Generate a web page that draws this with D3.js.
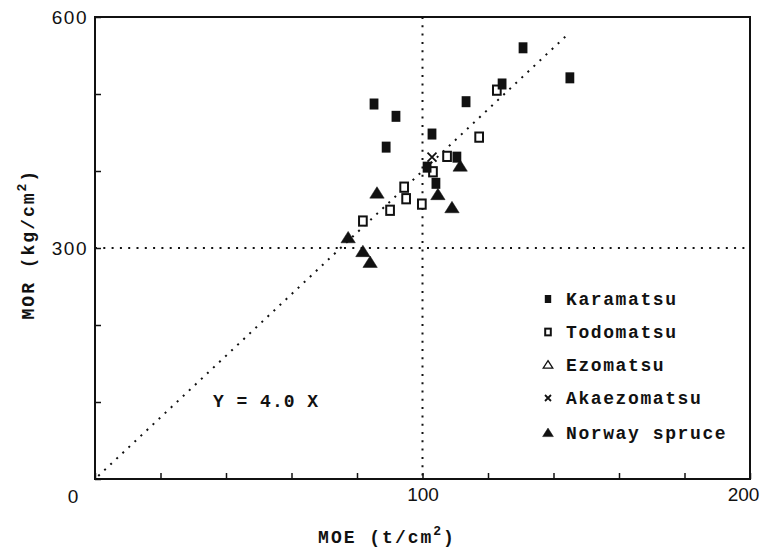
<!DOCTYPE html>
<html>
<head>
<meta charset="utf-8">
<script src="https://cdn.jsdelivr.net/npm/d3@7"></script>
<style>
  body { margin: 0; background: #fff; }
  .mono { font-family: "Liberation Mono", "DejaVu Sans Mono", monospace; font-weight: bold; fill: #111; }
  .tick text { font-family: "Liberation Sans", Arial, sans-serif; font-size: 19px; fill: #111; }
</style>
</head>
<body>
<div id="chart"></div>
<script>
// Data: [MOE (t/cm2), MOR (kg/cm2)]
const karamatsu = [
  [85.2, 487], [91.9, 471], [88.9, 431], [102.9, 448], [101.4, 405],
  [104.1, 384], [110.5, 418], [113.3, 490], [124.3, 513], [130.7, 560],
  [145.0, 521]
];
const todomatsu = [
  [122.7, 505], [117.3, 444], [107.5, 419], [103.2, 399], [94.4, 379],
  [95.0, 364], [99.8, 357], [90.1, 349], [81.8, 335]
];
const ezomatsu = [];
const akaezomatsu = [[102.9, 418]];
const norwaySpruce = [
  [86.1, 371], [77.3, 313], [81.8, 295], [84.0, 281], [104.7, 369],
  [109.0, 352], [111.5, 406]
];
const legendLabels = ['Karamatsu', 'Todomatsu', 'Ezomatsu', 'Akaezomatsu', 'Norway spruce'];
const xTicks = [0, 20, 40, 60, 80, 100, 120, 140, 160, 180, 200];
const yTicks = [0, 100, 200, 300, 400, 500, 600];
const slope = 4.0;

const width = 761;
const height = 552;
const margin = { top: 17, right: 11, bottom: 73, left: 95 };

const svg = d3.select('#chart')
  .append('svg')
  .attr('width', width)
  .attr('height', height);

const x = d3.scaleLinear().domain([0, 200]).range([margin.left, width - margin.right]);
const y = d3.scaleLinear().domain([0, 600]).range([height - margin.bottom, margin.top]);

// Axes with inward ticks
svg.append('g')
  .attr('transform', `translate(0,${y(0)})`)
  .call(d3.axisBottom(x).tickValues(xTicks).tickSizeInner(-6).tickSizeOuter(0).tickPadding(9)
    .tickFormat(d => (d === 100 || d === 200) ? d : ''))
  .call(g => g.select('.domain').remove())
  .call(g => g.selectAll('.tick text').filter(d => d === 200).attr('dx', -7));

svg.append('g')
  .attr('transform', `translate(${x(0)},0)`)
  .call(d3.axisLeft(y).tickValues(yTicks).tickSizeInner(-6).tickSizeOuter(0).tickPadding(7)
    .tickFormat(d => (d === 300 || d === 600) ? d : ''))
  .call(g => g.select('.domain').remove())
  .call(g => g.selectAll('.tick text').style('letter-spacing', '1.5px'));

svg.selectAll('.tick line').attr('stroke', '#111').attr('stroke-width', 1.5);

// corner zero label
svg.append('text')
  .attr('x', x(0) - 22)
  .attr('y', y(0) + 24)
  .attr('text-anchor', 'middle')
  .style('font-family', '"Liberation Sans", Arial, sans-serif')
  .style('font-size', '19px')
  .attr('fill', '#111')
  .text('0');

// frame
svg.append('rect')
  .attr('x', x(0))
  .attr('y', y(600))
  .attr('width', x(200) - x(0))
  .attr('height', y(0) - y(600))
  .attr('fill', 'none')
  .attr('stroke', '#111')
  .attr('stroke-width', 2);

// dotted reference lines
const dotted = g => g.attr('stroke', '#111').attr('stroke-width', 2).attr('stroke-dasharray', '2,6.3').attr('fill', 'none');

svg.append('line')
  .attr('x1', x(100)).attr('x2', x(100))
  .attr('y1', y(600)).attr('y2', y(0))
  .call(dotted);

svg.append('line')
  .attr('x1', x(0)).attr('x2', x(200))
  .attr('y1', y(300)).attr('y2', y(300))
  .call(dotted);

svg.append('line')
  .attr('x1', x(1)).attr('y1', y(slope * 1))
  .attr('x2', x(145)).attr('y2', y(slope * 145))
  .call(dotted);

svg.append('text')
  .attr('class', 'mono')
  .attr('x', x(36))
  .attr('y', y(94))
  .style('font-size', '18px')
  .style('letter-spacing', '1px')
  .text('Y = 4.0 X');

// marker drawers
function filledSquare(g, px, py, s) {
  g.append('rect')
    .attr('x', px - s * 0.4).attr('y', py - s * 0.5)
    .attr('width', s * 0.8).attr('height', s)
    .attr('fill', '#111');
}
function openSquare(g, px, py, s) {
  g.append('rect')
    .attr('x', px - s * 0.35).attr('y', py - s * 0.42)
    .attr('width', s * 0.7).attr('height', s * 0.84)
    .attr('fill', '#fff').attr('stroke', '#111').attr('stroke-width', 2);
}
function triangle(g, px, py, s, filled) {
  g.append('path')
    .attr('d', `M${px},${py - s * 0.55}L${px + s * 0.6},${py + s * 0.4}L${px - s * 0.6},${py + s * 0.4}Z`)
    .attr('fill', filled ? '#111' : '#fff')
    .attr('stroke', '#111').attr('stroke-width', filled ? 0.5 : 1.3);
}
function cross(g, px, py, s) {
  g.append('path')
    .attr('d', `M${px - s / 2},${py - s / 2}L${px + s / 2},${py + s / 2}M${px + s / 2},${py - s / 2}L${px - s / 2},${py + s / 2}`)
    .attr('stroke', '#111').attr('stroke-width', 1.8);
}

const pts = svg.append('g');
todomatsu.forEach(d => openSquare(pts, x(d[0]), y(d[1]), 11));
karamatsu.forEach(d => filledSquare(pts, x(d[0]), y(d[1]), 11));
ezomatsu.forEach(d => triangle(pts, x(d[0]), y(d[1]), 12, false));
akaezomatsu.forEach(d => cross(pts, x(d[0]), y(d[1]), 9));
norwaySpruce.forEach(d => triangle(pts, x(d[0]), y(d[1]), 12, true));

// legend
const legend = svg.append('g');
const legendDraw = [
  (g, px, py) => filledSquare(g, px, py, 8),
  (g, px, py) => openSquare(g, px, py, 8),
  (g, px, py) => triangle(g, px, py, 8, false),
  (g, px, py) => cross(g, px, py, 6),
  (g, px, py) => triangle(g, px, py, 9, true)
];
const legendY = [299, 332, 365, 398, 433];
legendLabels.forEach((label, i) => {
  legendDraw[i](legend, 548, legendY[i]);
  legend.append('text')
    .attr('class', 'mono')
    .attr('x', 566)
    .attr('y', legendY[i])
    .attr('dy', '0.35em')
    .style('font-size', '18px')
    .style('letter-spacing', '1.6px')
    .text(label);
});

// axis titles
const xTitle = svg.append('text')
  .attr('class', 'mono')
  .attr('x', 387)
  .attr('y', 543)
  .attr('text-anchor', 'middle')
  .style('font-size', '18px')
  .style('letter-spacing', '2px');
xTitle.append('tspan').text('MOE (t/cm');
xTitle.append('tspan').attr('dy', -8).style('font-size', '13px').text('2');
xTitle.append('tspan').attr('dy', 8).text(')');

const yTitle = svg.append('text')
  .attr('class', 'mono')
  .attr('transform', `translate(34,${y(305)}) rotate(-90)`)
  .attr('text-anchor', 'middle')
  .style('font-size', '18px')
  .style('letter-spacing', '2px');
yTitle.append('tspan').text('MOR (kg/cm');
yTitle.append('tspan').attr('dy', -8).style('font-size', '13px').text('2');
yTitle.append('tspan').attr('dy', 8).text(')');
</script>
</body>
</html>
